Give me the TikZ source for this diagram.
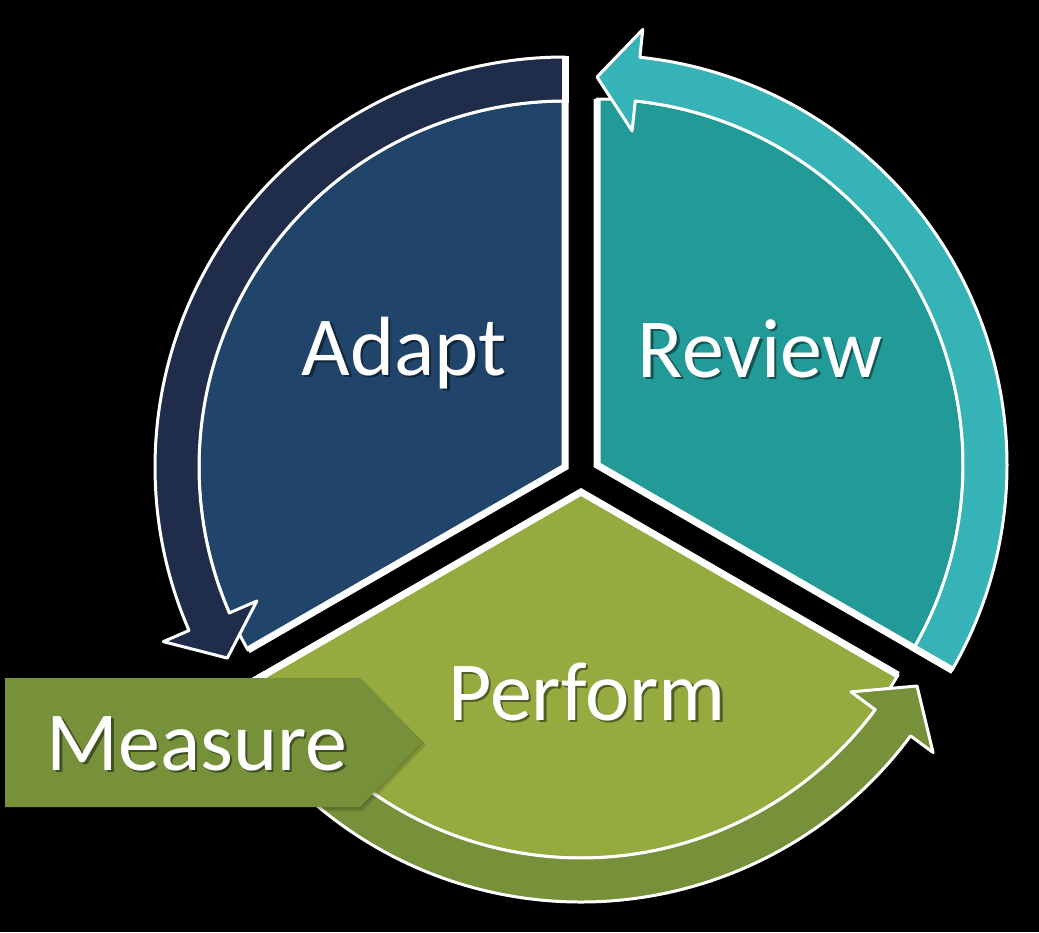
\documentclass[tikz,border=0pt]{standalone}
\usepackage{fontspec}
\setmainfont{Carlito}
\definecolor{adaptin}{RGB}{33,69,106}
\definecolor{adaptband}{RGB}{31,45,74}
\definecolor{reviewin}{RGB}{34,154,152}
\definecolor{reviewband}{RGB}{53,179,182}
\definecolor{perfin}{RGB}{149,170,63}
\definecolor{perfband}{RGB}{119,144,58}
\definecolor{measurefill}{RGB}{118,145,58}
\newcommand{\shtext}[2]{\rlap{\hspace{2.5pt}\raisebox{-2.5pt}{\color{#1}#2}}#2}
\begin{document}
\begin{tikzpicture}[x=1pt,y=1pt,
  edge/.style={draw=white, line width=3, line join=round},
  radial/.style={draw=white, line width=7, line join=miter},
  lbl/.style={text=white, font=\fontsize{84}{90}\selectfont, inner sep=0pt, anchor=base}]
\useasboundingbox (0,0) rectangle (1039,-932);
\fill[black] (0,0) rectangle (1039,-932);

% Adapt sector
\begin{scope}[shift={(565,-467)}]
  \filldraw[fill=adaptin, edge] (0,0) -- (90:366) arc[start angle=90, end angle=210, radius=366] -- cycle;
  \draw[radial] (90:411) -- (0,0) -- (210:366);
  \filldraw[fill=adaptband, edge] (90:366) -- (90:410) arc[start angle=90, end angle=203.5, radius=410]
    -- (203.5:438) -- (209.5:388) -- (203.5:336) -- (203.5:366)
    arc[start angle=203.5, end angle=90, radius=366] -- cycle;
  \draw[draw=white, line width=7] (90:364) -- (90:411);
\end{scope}

% Review sector
\begin{scope}[shift={(597,-465)}]
  \filldraw[fill=reviewin, edge] (0,0) -- (-30:366) arc[start angle=-30, end angle=90, radius=366] -- cycle;
  \draw[radial] (-30:411) -- (0,0) -- (90:366);
  \filldraw[fill=reviewband, edge] (-30:366) -- (-30:410) arc[start angle=-30, end angle=84, radius=410]
    -- (84:438) -- (90:388) -- (84:336) -- (84:366)
    arc[start angle=84, end angle=-30, radius=366] -- cycle;
  \draw[draw=white, line width=7] (-30:364) -- (-30:411);
\end{scope}

% Perform sector
\begin{scope}[shift={(581,-492)}]
  \filldraw[fill=perfin, edge] (0,0) -- (210:366) arc[start angle=210, end angle=330, radius=366] -- cycle;
  \draw[radial] (210:411) -- (0,0) -- (330:366);
  \filldraw[fill=perfband, edge] (210:366) -- (210:410) arc[start angle=210, end angle=323.5, radius=410]
    -- (323.5:438) -- (330:388) -- (323.5:336) -- (323.5:366)
    arc[start angle=323.5, end angle=210, radius=366] -- cycle;
  \draw[draw=white, line width=7] (210:364) -- (210:411);
\end{scope}

% Measure arrow box
\fill[black, opacity=0.12] (8,-681) -- (363,-681) -- (426,-745) -- (363,-811) -- (8,-811) -- cycle;
\fill[black, opacity=0.12] (6,-679) -- (361,-679) -- (424,-743) -- (361,-809) -- (6,-809) -- cycle;
\fill[measurefill] (5,-678) -- (360,-678) -- (422,-742) -- (360,-807) -- (5,-807) -- cycle;

% Labels
\node[lbl] (adapt) at (404,-375) {\shtext{adaptin!55!black}{Adapt}};
\node[lbl] (review) at (760,-377) {\shtext{reviewin!55!black}{Review}};
\node[lbl] (perform) at (587,-720) {\shtext{perfin!55!black}{Perform}};
\node[lbl] (measure) at (197,-770) {\shtext{measurefill!55!black}{Measure}};
\end{tikzpicture}
\end{document}
